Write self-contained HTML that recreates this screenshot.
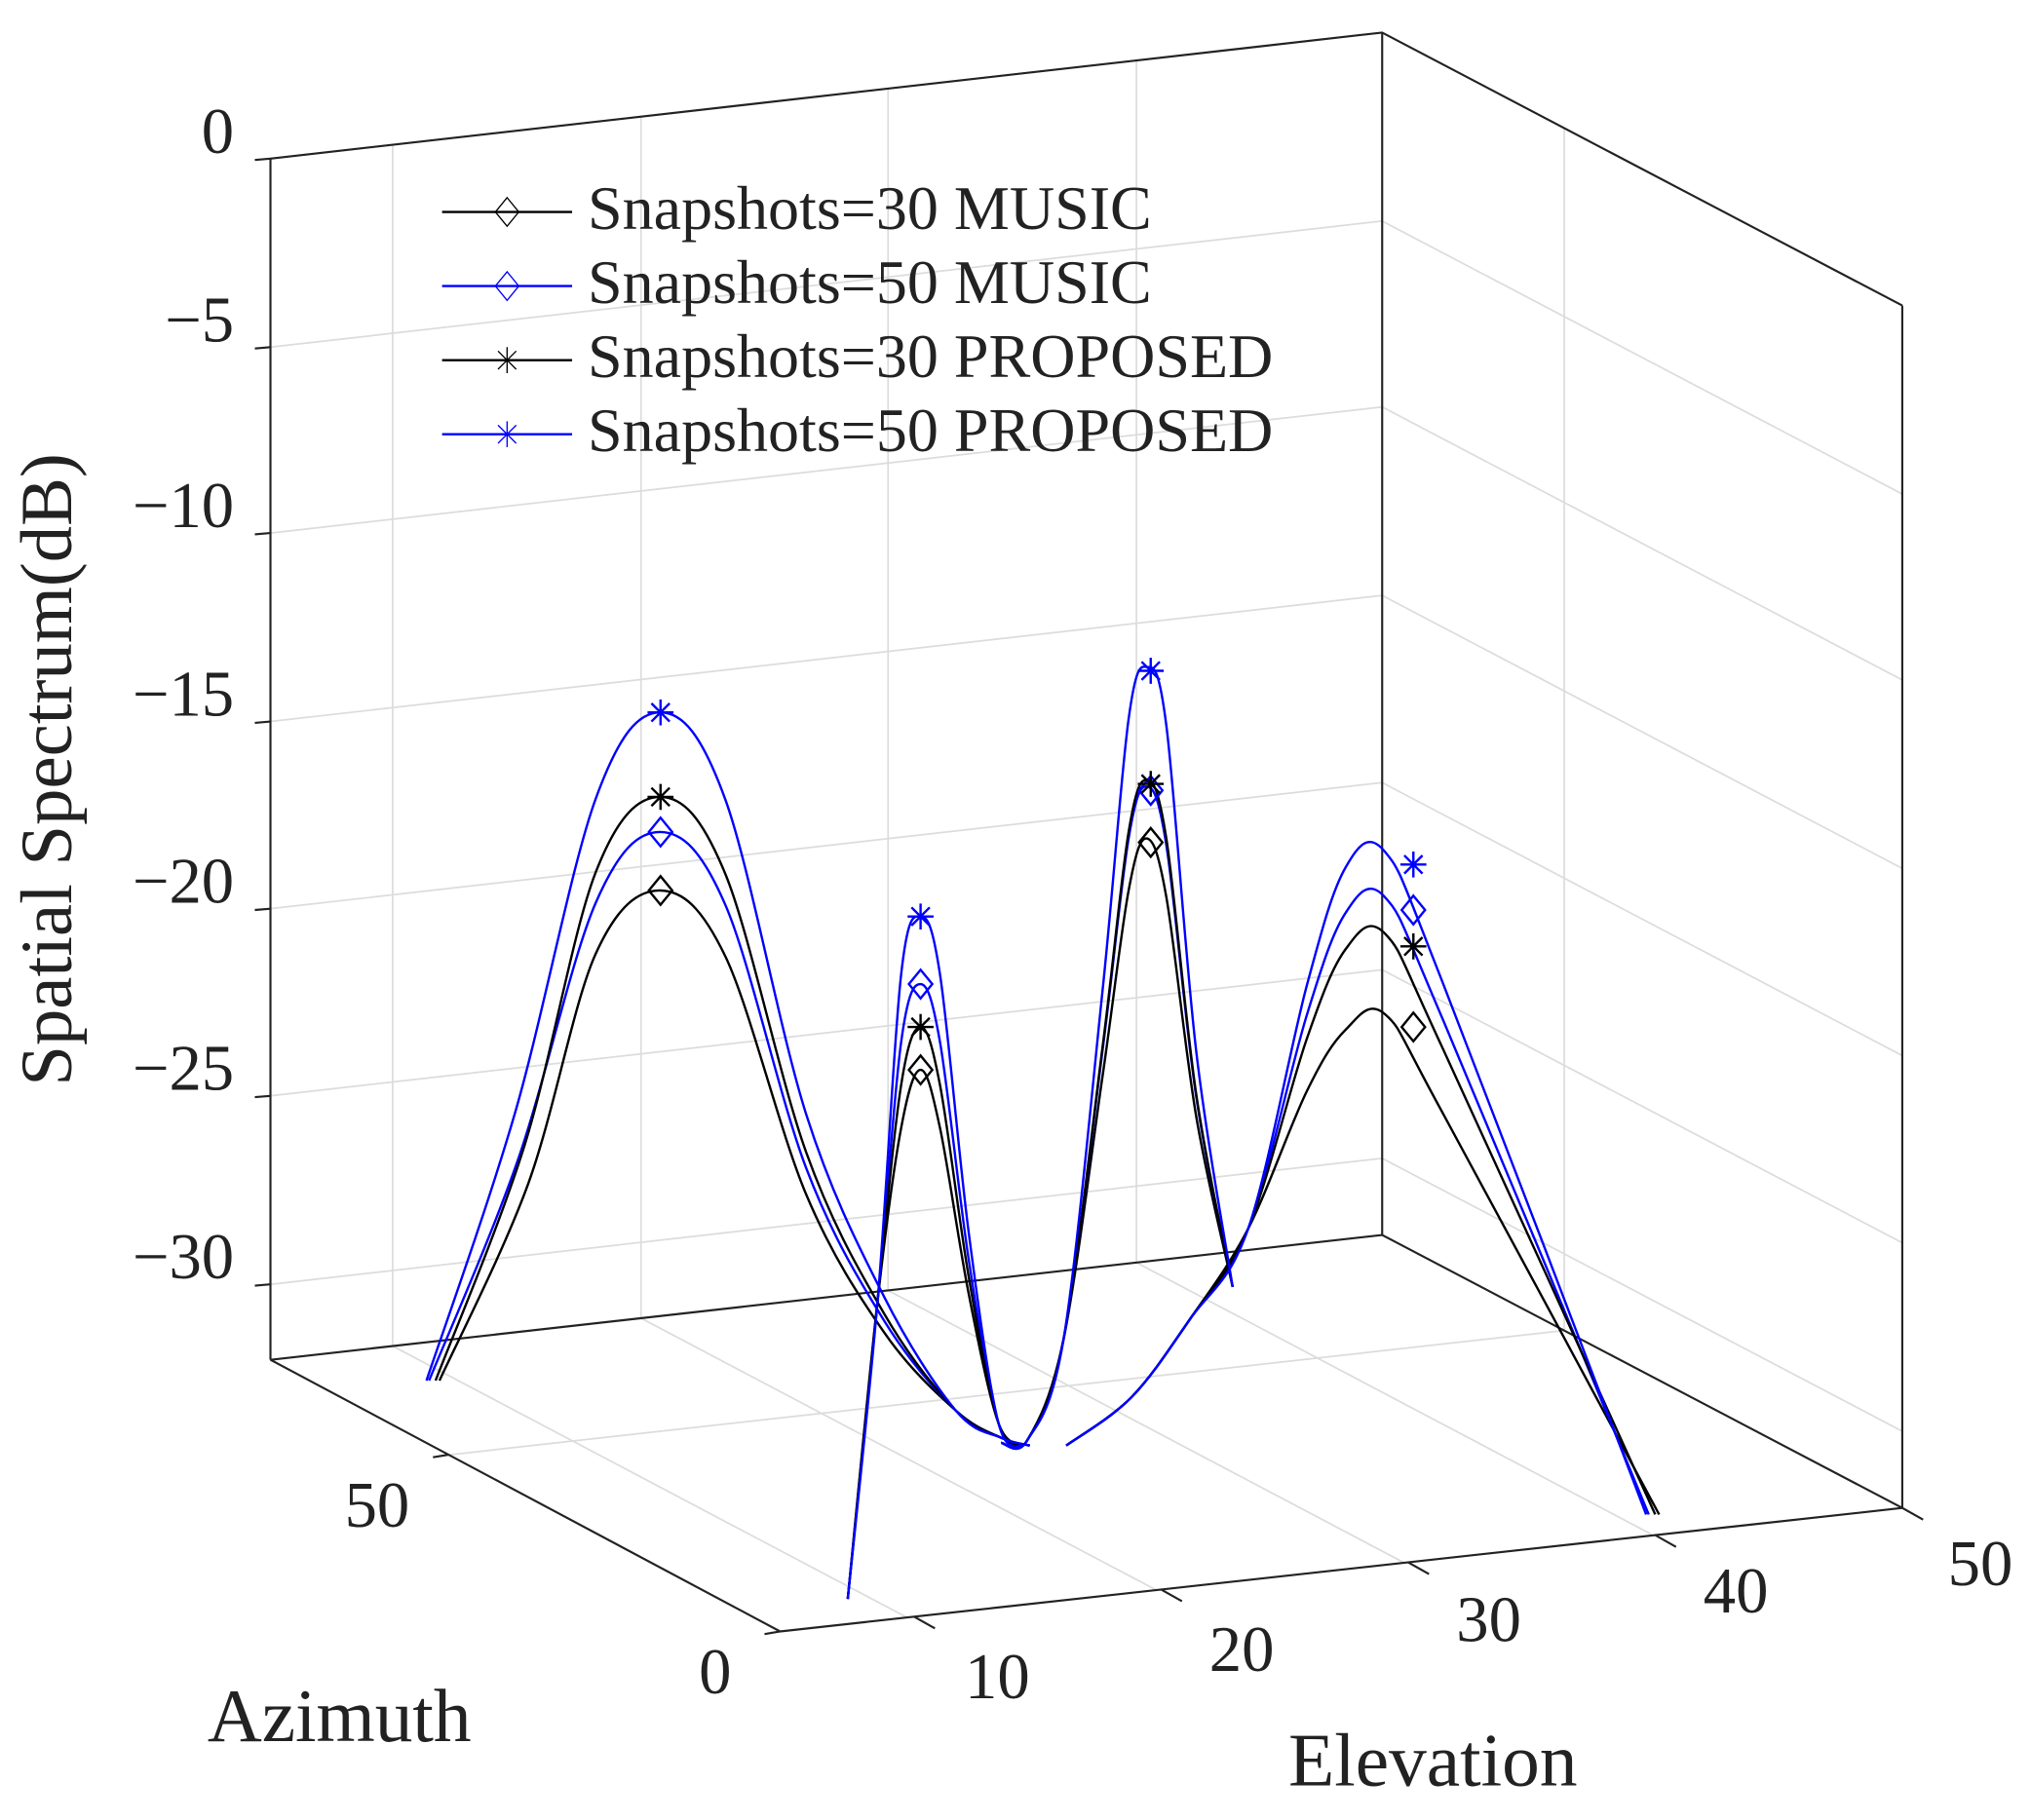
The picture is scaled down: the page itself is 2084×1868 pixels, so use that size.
<!DOCTYPE html>
<html><head><meta charset="utf-8">
<style>
html,body{margin:0;padding:0;background:#fff;}
svg{display:block;}
text{font-family:"Liberation Serif",serif;fill:#222;}
</style></head>
<body>
<svg id="s" width="2084" height="1868" viewBox="0 0 1562 1400" xmlns="http://www.w3.org/2000/svg">
<rect width="1562" height="1400" fill="#fff"/>
<g id="grid" stroke="#dcdcdc" stroke-width="1.3" fill="none"></g>
<g id="box" stroke="#222" stroke-width="1.6" fill="none">
<polyline points="208,122 1063,25 1463,235"/>
<line x1="208" y1="122" x2="208" y2="1046"/>
<line x1="1063" y1="25" x2="1063" y2="950"/>
<line x1="1463" y1="235" x2="1463" y2="1160"/>
<polyline points="208,1046 1063,950 1463,1160"/>
<polyline points="208,1046 600,1255 1463,1160"/>
</g>
<g id="ticks" stroke="#222" stroke-width="1.6"></g>
<g id="curves" fill="none" stroke-width="1.8"></g>
<g id="marks" fill="none" stroke-width="1.8"></g>
<g font-size="50">
<text x="180" y="106" text-anchor="end" dominant-baseline="middle">0</text>
<text x="180" y="251" text-anchor="end" dominant-baseline="middle">−5</text>
<text x="180" y="394" text-anchor="end" dominant-baseline="middle">−10</text>
<text x="180" y="539" text-anchor="end" dominant-baseline="middle">−15</text>
<text x="180" y="683" text-anchor="end" dominant-baseline="middle">−20</text>
<text x="180" y="827" text-anchor="end" dominant-baseline="middle">−25</text>
<text x="180" y="972" text-anchor="end" dominant-baseline="middle">−30</text>
<text x="290" y="1163" text-anchor="middle" dominant-baseline="middle">50</text>
<text x="550" y="1291" text-anchor="middle" dominant-baseline="middle">0</text>
<text x="767" y="1295" text-anchor="middle" dominant-baseline="middle">10</text>
<text x="955" y="1274" text-anchor="middle" dominant-baseline="middle">20</text>
<text x="1145" y="1251" text-anchor="middle" dominant-baseline="middle">30</text>
<text x="1335" y="1229" text-anchor="middle" dominant-baseline="middle">40</text>
<text x="1523" y="1208" text-anchor="middle" dominant-baseline="middle">50</text>
</g>
<text x="261" y="1326" font-size="58" text-anchor="middle" dominant-baseline="middle">Azimuth</text>
<text x="1102" y="1360" font-size="58" text-anchor="middle" dominant-baseline="middle">Elevation</text>
<text transform="translate(42,592) rotate(-90)" font-size="56" text-anchor="middle" dominant-baseline="middle">Spatial Spectrum(dB)</text>
<g id="legend" font-size="48" fill="none"></g>
</svg>
<script>
var NS="http://www.w3.org/2000/svg";
function el(p,t,a,txt){var e=document.createElementNS(NS,t);for(var k in a)e.setAttribute(k,a[k]);if(txt)e.textContent=txt;document.getElementById(p).appendChild(e);return e;}
[122,267,410,555,699,843,988].forEach(function(y){
 el('grid','polyline',{points:"208,"+y+" 1063,"+(y-97)+" 1463,"+(y-97+210)});
});
[302,493,683,874].forEach(function(x){
 var t=(x-208)/855;var yt=122-97*t, yb=1046-96*t;
 el('grid','line',{x1:x,y1:yt,x2:x,y2:yb});
 el('grid','line',{x1:x,y1:yb,x2:x+396,y2:yb+209});
});
var ta=0.35;
el('grid','line',{x1:1063+400*ta,y1:25+210*ta,x2:1063+400*ta,y2:950+210*ta});
el('grid','line',{x1:208+392*ta,y1:1046+209*ta,x2:1063+400*ta,y2:950+210*ta});
[[345,1119],[600,1255]].forEach(function(p){el('ticks','line',{x1:p[0],y1:p[1],x2:p[0]-12,y2:p[1]+2});});
[703,893,1083,1273,1463].forEach(function(x){var y=1255-(x-600)*95/863;el('ticks','line',{x1:x,y1:y,x2:x+16,y2:y+9});});
[122,267,410,555,699,843,988].forEach(function(y){el('ticks','line',{x1:208,y1:y,x2:196,y2:y+1});});
function cr(pts){var d="M"+pts[0][0]+","+pts[0][1];for(var i=0;i<pts.length-1;i++){var p0=pts[i-1]||pts[i],p1=pts[i],p2=pts[i+1],p3=pts[i+2]||p2;
 d+=" C"+(p1[0]+(p2[0]-p0[0])/6)+","+(p1[1]+(p2[1]-p0[1])/6)+" "+(p2[0]-(p3[0]-p1[0])/6)+","+(p2[1]-(p3[1]-p1[1])/6)+" "+p2[0]+","+p2[1];}return d;}
var S=[
 {c:"#000",p:[685,823,645,780],m:"d",o:6},
 {c:"#00f",p:[640,757,605,690],m:"d",o:-2},
 {c:"#000",p:[613,790,600,718],m:"s",o:3},
 {c:"#00f",p:[548,705,513,655],m:"s",o:-4}];
S.forEach(function(s){
 var o=s.o,p=s.p,a=p[0],b=p[1],c=p[2],d=p[3];
 var segs=[
 [[332+o,1062],[400+o,a+(1062-a)*0.6],[458,a+(1062-a)*0.13],[508,a],[558,a+0.12*(1110-a)],[620,a+0.55*(1110-a)],[680,a+0.8*(1110-a)],[735,1085],[770,1106],[792,1112]],
 [[652,1230],[675,1000],[693,b+45],[708,b],[723,b+45],[745,b+0.6*(1110-b)],[768,1095],[788,1112]],
 [[770,1110],[790,1108],[818,1030],[848,c+0.5*(1010-c)],[868,c+40],[882,c],[897,c+45],[920,c+0.62*(990-c)],[948,990]],
 [[820,1112],[870,1075],[915,1015],[960,945],[1005,d+(950-d)*0.35],[1035,d+12],[1065,d],[1110,d+0.2*(1165-d)],[1270+o,1165]]];
 segs.forEach(function(g){el('curves','path',{d:cr(g),stroke:s.c});});
 [[508,a],[708,b],[885,c+3],[1087,d+10]].forEach(function(q){mk(q[0],q[1],s.m,s.c);});
});
function mk(x,y,m,c,parent){parent=parent||'marks';
 if(m=="d")el(parent,'polygon',{points:x+","+(y-11)+" "+(x+9)+","+y+" "+x+","+(y+11)+" "+(x-9)+","+y,stroke:c,fill:"none"});
 else{var r=10;el(parent,'path',{d:"M"+(x-r)+","+y+"H"+(x+r)+"M"+x+","+(y-r)+"V"+(y+r)+"M"+(x-7)+","+(y-7)+"L"+(x+7)+","+(y+7)+"M"+(x-7)+","+(y+7)+"L"+(x+7)+","+(y-7),stroke:c,fill:"none"});}
}
var L=[["#000","d","Snapshots=30 MUSIC"],["#00f","d","Snapshots=50 MUSIC"],["#000","s","Snapshots=30 PROPOSED"],["#00f","s","Snapshots=50 PROPOSED"]];
L.forEach(function(l,i){var y=163+i*57;
 el('legend','line',{x1:340,y1:y,x2:440,y2:y,stroke:l[0],"stroke-width":1.8});
 mk(390,y,l[1],l[0],'legend');
 el('legend','text',{x:452,y:y+2,"dominant-baseline":"middle",fill:"#222"},l[2]);
});
</script>
</body></html>
